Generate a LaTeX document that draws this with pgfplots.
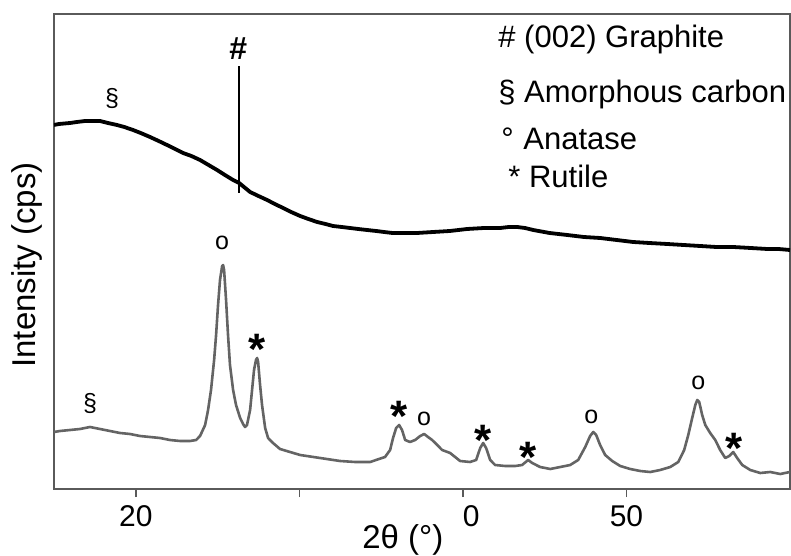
\documentclass[border=0pt]{standalone}
\usepackage{pgfplots}
\pgfplotsset{compat=1.18}
\usepackage{fontspec}
\setmainfont{Liberation Sans}
\definecolor{grayline}{RGB}{100,100,100}
\definecolor{axisgray}{RGB}{90,90,90}
\begin{document}
\begin{tikzpicture}
\useasboundingbox (0,0) rectangle (791bp,556bp);
\begin{axis}[
  at={(54bp,67bp)}, anchor=south west,
  scale only axis, width=736bp, height=475bp,
  xmin=15, xmax=60, ymin=0, ymax=475,
  xtick={20,30,40,50}, xticklabels={20,,\phantom{4}0,50},
  ytick=\empty,
  xtick pos=lower,
  tick align=outside, major tick length=8bp,
  axis line style={axisgray, line width=1.6bp},
  every tick/.style={axisgray, line width=1.6bp},
  tick label style={font=\fontsize{30bp}{36bp}\selectfont},
  /pgf/number format/assume math mode=true,
  xticklabel style={yshift=-5bp},
  xlabel={2θ (°)},
  xlabel style={font=\fontsize{33bp}{40bp}\selectfont, at={(axis description cs:0.474,0)}, anchor=base, yshift=-59bp},
  ylabel={Intensity (cps)},
  ylabel style={font=\fontsize{33bp}{40bp}\selectfont, at={(axis description cs:-0.0245,0.4716)}, rotate=0, anchor=base},
  clip=true,
]
% upper (black) curve
\addplot[black, line width=3.8bp, line join=round] coordinates {
(15.00,364) (15.30,365) (15.98,366) (16.40,367) (16.90,368) (17.30,368) (17.81,368) (18.30,366)
(18.85,364) (19.30,362) (19.83,359) (20.30,356) (20.87,352) (21.40,348) (21.91,344) (22.40,340)
(22.89,336) (23.40,333) (23.93,329) (24.45,324) (24.97,319) (25.45,314) (25.95,309) (26.32,306)
(26.99,297) (27.50,293) (28.03,289) (28.50,285) (29.01,281) (29.50,277) (30.05,273) (30.55,270)
(31.09,267) (31.60,265) (32.06,263) (32.60,262) (33.10,261) (33.60,260) (34.14,259) (34.70,258)
(35.18,257) (35.70,256) (36.16,256) (37.20,256) (38.18,257) (39.20,258) (40.26,260) (41.30,261)
(42.28,261) (42.80,262) (43.32,262) (43.80,261) (44.30,259) (45.30,256) (46.38,254) (47.40,252)
(48.39,251) (49.40,249) (50.41,247) (51.40,246) (52.49,245) (53.50,244) (54.51,243) (55.50,242)
(56.53,242) (57.60,241) (58.61,240) (59.30,240) (60.00,239)
};
% graphite marker line
\addplot[black, line width=2.5bp] coordinates {(26.32,296) (26.32,423)};
% lower (gray) curve
\addplot[grayline, line width=2.6bp, line join=round] coordinates {
(15.00,57) (15.37,58) (15.98,59) (16.59,60) (17.20,62) (17.81,60) (18.43,58) (19.04,56)
(19.65,55) (20.26,53) (20.87,52) (21.48,51) (22.09,49) (22.71,48) (23.32,48) (23.69,49)
(23.93,53) (24.24,64) (24.42,79) (24.60,99) (24.79,129) (24.91,154) (25.03,184) (25.15,209)
(25.28,223) (25.34,224) (25.40,219) (25.52,189) (25.64,154) (25.76,124) (25.95,99) (26.13,84)
(26.38,71) (26.56,65) (26.68,62) (26.80,64) (26.99,79) (27.11,99) (27.23,119) (27.35,129)
(27.42,131) (27.48,127) (27.60,104) (27.72,84) (27.91,61) (28.09,51) (28.39,46) (28.82,40)
(29.43,37) (30.05,34) (31.27,31) (32.49,28) (33.41,27) (34.33,27) (35.24,32) (35.55,39)
(35.73,51) (35.92,61) (36.10,64) (36.28,59) (36.47,49) (36.77,47) (37.08,49) (37.39,53)
(37.63,55) (37.87,52) (38.12,49) (38.43,44) (38.73,39) (39.22,36) (39.83,28) (40.44,27)
(40.81,29) (41.06,41) (41.24,46) (41.42,41) (41.67,29) (41.97,24) (42.58,23) (43.20,23)
(43.62,24) (43.99,29) (44.24,26) (44.72,22) (45.34,20) (45.95,22) (46.56,24) (47.05,29)
(47.48,42) (47.78,53) (47.97,57) (48.15,54) (48.39,44) (48.70,34) (49.13,28) (49.62,23)
(50.23,20) (50.84,18) (51.45,17) (52.06,19) (52.68,22) (53.17,27) (53.53,39) (53.78,54)
(54.02,71) (54.21,84) (54.33,89) (54.45,87) (54.63,74) (54.82,64) (55.12,56) (55.43,49)
(55.73,39) (56.04,31) (56.28,33) (56.53,37) (56.77,31) (57.08,24) (57.57,19) (58.18,16)
(58.79,17) (59.40,15) (60.00,17)
};
% annotations
\begin{scope}[every node/.style={inner sep=0pt}]
\node[font=\fontsize{32bp}{36bp}\selectfont\bfseries, anchor=center] at (axis cs:26.26,440) {\#};
\node[font=\fontsize{25bp}{28bp}\selectfont, anchor=center] at (axis cs:18.55,391) {§};
\node[font=\fontsize{25bp}{28bp}\selectfont, anchor=center] at (axis cs:17.20,86) {§};
\node[font=\fontsize{25bp}{28bp}\selectfont, anchor=base] at (axis cs:25.28,239) {o};
\node[font=\fontsize{25bp}{28bp}\selectfont, anchor=base] at (axis cs:37.63,63) {o};
\node[font=\fontsize{25bp}{28bp}\selectfont, anchor=base] at (axis cs:47.85,65) {o};
\node[font=\fontsize{25bp}{28bp}\selectfont, anchor=base] at (axis cs:54.39,99) {o};
\node[font=\fontsize{44bp}{50bp}\selectfont\bfseries, anchor=base] at (axis cs:27.42,124) {*};
\node[font=\fontsize{44bp}{50bp}\selectfont\bfseries, anchor=base] at (axis cs:36.10,57) {*};
\node[font=\fontsize{44bp}{50bp}\selectfont\bfseries, anchor=base] at (axis cs:41.24,33) {*};
\node[font=\fontsize{44bp}{50bp}\selectfont\bfseries, anchor=base] at (axis cs:43.99,17) {*};
\node[font=\fontsize{44bp}{50bp}\selectfont\bfseries, anchor=base] at (axis cs:56.59,26) {*};
\node[font=\fontsize{31bp}{36bp}\selectfont, anchor=base west] at (axis cs:42.16,441) {\# (002) Graphite};
\node[font=\fontsize{31bp}{36bp}\selectfont, anchor=base west] at (axis cs:42.16,386) {§ Amorphous carbon};
\node[font=\fontsize{31bp}{36bp}\selectfont, anchor=base west] at (axis cs:42.34,339) {°\hspace{1bp} Anatase};
\node[font=\fontsize{31bp}{36bp}\selectfont, anchor=base west] at (axis cs:42.77,301) {* Rutile};
\end{scope}
\end{axis}
\end{tikzpicture}
\end{document}
